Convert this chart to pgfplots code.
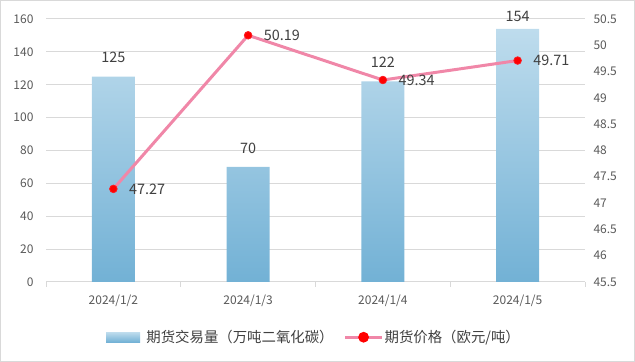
\documentclass[border=0pt]{standalone}
\usepackage{fontspec}
\setmainfont{Noto Sans CJK SC}
\usepackage{pgfplots}
\pgfplotsset{compat=1.18}
\definecolor{gridc}{RGB}{217,217,217}
\definecolor{tickc}{RGB}{89,89,89}
\definecolor{lblc}{RGB}{64,64,64}
\definecolor{bartop}{RGB}{190,220,237}
\definecolor{barbot}{RGB}{114,177,213}
\definecolor{linec}{RGB}{240,135,168}
\definecolor{markc}{RGB}{255,0,0}
\begin{document}
\begin{tikzpicture}
\path[use as bounding box] (0bp,0bp) rectangle (635bp,362bp);
\draw[gridc, line width=1bp] (0.5bp,0.5bp) rectangle (634.5bp,361.5bp);
\begin{axis}[
  at={(46bp,80bp)}, anchor=south west, scale only axis,
  width=539bp, height=263bp,
  xmin=-0.5, xmax=3.5, ymin=0, ymax=160,
  ytick={0,20,...,160},
  xtick={-0.5,0.5,1.5,2.5,3.5},
  x tick label as interval,
  xticklabels={2024/1/2,2024/1/3,2024/1/4,2024/1/5},
  axis x line*=bottom, axis y line*=left,
  y axis line style={draw=none},
  x axis line style={draw=gridc, line width=1bp},
  ymajorgrids, grid style={draw=gridc, line width=1bp},
  ytick style={draw=none},
  xtick style={draw=gridc, line width=1bp},
  tick align=outside, major tick length=5bp,
  tick label style={font=\fontsize{12bp}{14bp}\selectfont, text=tickc},
  /pgf/number format/assume math mode=true,
  yticklabel style={xshift=-4bp},
  xticklabel style={yshift=-4bp},
  clip=false,
]
\addplot[ybar, bar width=43bp, draw=none, top color=bartop, bottom color=barbot]
  coordinates {(0,125) (1,70) (2,122) (3,154)};
\addplot[draw=none, mark=none,
  nodes near coords, nodes near coords style={font=\fontsize{14.4bp}{16bp}\selectfont, text=lblc, anchor=south, yshift=10bp}]
  coordinates {(0,125) (1,70) (2,122)};
\addplot[draw=none, mark=none,
  nodes near coords, nodes near coords style={font=\fontsize{14.4bp}{16bp}\selectfont, text=lblc, anchor=south, yshift=4bp}]
  coordinates {(3,154)};
\end{axis}
\begin{axis}[
  at={(46bp,80bp)}, anchor=south west, scale only axis,
  width=539bp, height=263bp,
  xmin=-0.5, xmax=3.5, ymin=45.5, ymax=50.5,
  ytick={45.5,46,...,50.5},
  axis y line*=right, axis x line=none,
  y axis line style={draw=none},
  ytick style={draw=none},
  tick label style={font=\fontsize{12bp}{14bp}\selectfont, text=tickc},
  /pgf/number format/assume math mode=true,
  yticklabel style={xshift=5bp},
  clip=false,
  legend columns=2,
  legend style={at={(0.4954,-0.21)}, anchor=center, draw=none, fill=none,
    font=\fontsize{14.4bp}{16bp}\selectfont, text=lblc,
    inner sep=0pt, nodes={inner sep=0pt},
    /tikz/every odd column/.append style={column sep=0pt},
    /tikz/every even column/.append style={column sep=10bp}},
]
\addlegendimage{legend image code/.code={\path[draw=none, top color=bartop, bottom color=barbot] (0bp,-5bp) rectangle (34bp,5bp); \path (40bp,0bp);}}
\addlegendentry{期货交易量（万吨二氧化碳）}
\addplot[linec, line width=3bp, mark=*, mark size=3.8bp, mark options={fill=markc, draw=markc!80!linec, line width=0.8bp},
  nodes near coords, nodes near coords style={font=\fontsize{14.4bp}{16bp}\selectfont, text=lblc, anchor=west, xshift=12bp},
  legend image code/.code={\draw[linec, line width=3bp] (0bp,0bp) -- (37bp,0bp); \fill[markc] (18.5bp,0bp) circle (3.8bp); \path (38bp,0bp);}]
  coordinates {(0,47.27) (1,50.19) (2,49.34) (3,49.71)};
\addlegendentry{期货价格（欧元/吨）}
\end{axis}
\end{tikzpicture}
\end{document}
